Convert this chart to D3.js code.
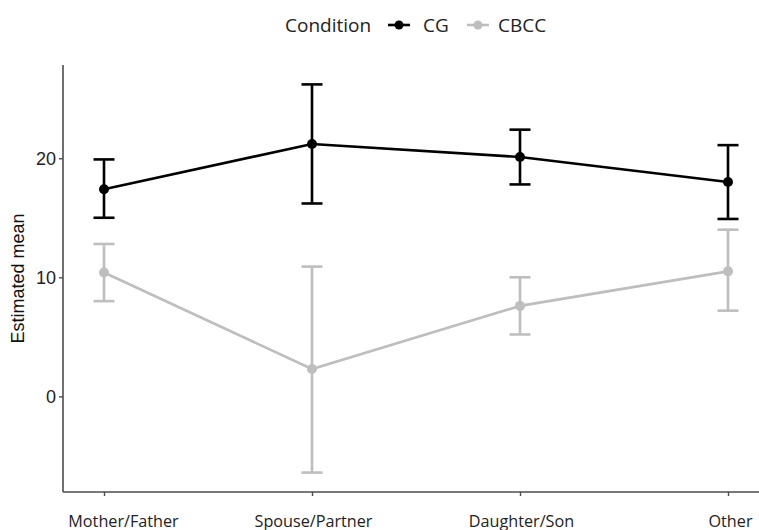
<!DOCTYPE html>
<html><head><meta charset="utf-8">
<script src="https://cdn.jsdelivr.net/npm/d3@7"></script>
<style>body{margin:0;background:#fff;} svg{display:block;}</style>
</head><body>
<svg id="c" width="759" height="530"></svg>
<script>
const categories = ["Mother/Father", "Spouse/Partner", "Daughter/Son", "Other"];
const seriesNames = ["CG", "CBCC"];
const cgMean  = [17.4, 21.2, 20.1, 18.0];
const cgLower = [15.0, 16.2, 17.8, 14.9];
const cgUpper = [19.9, 26.2, 22.4, 21.1];
const cbccMean  = [10.4, 2.3, 7.6, 10.5];
const cbccLower = [8.0, -6.4, 5.2, 7.2];
const cbccUpper = [12.8, 10.9, 10.0, 14.0];
const yTicks = [0, 10, 20];
const colors = ["#000000", "#bebebe"];

const series = [
  {name: seriesNames[0], color: colors[0], mean: cgMean, lo: cgLower, hi: cgUpper},
  {name: seriesNames[1], color: colors[1], mean: cbccMean, lo: cbccLower, hi: cbccUpper}
];

const svg = d3.select("#c");
const mLeft = 63, mTop = 65, mBottom = 492;
const step = 208;
const x = d3.scalePoint().domain(categories).range([104, 104 + 3 * step]);
const all = cgLower.concat(cgUpper, cbccLower, cbccUpper);
const lo = d3.min(all), hi = d3.max(all), pad = (hi - lo) * 0.05;
const y = d3.scaleLinear().domain([lo - pad, hi + pad]).range([mBottom, mTop]);

// axes
const axisColor = "#4d4d4d";
svg.append("line").attr("x1", mLeft).attr("x2", mLeft).attr("y1", mTop).attr("y2", mBottom)
  .attr("stroke", axisColor).attr("stroke-width", 1.6);
svg.append("line").attr("x1", mLeft).attr("x2", 780).attr("y1", mBottom).attr("y2", mBottom)
  .attr("stroke", axisColor).attr("stroke-width", 1.6);

const yAxis = svg.append("g").attr("transform", `translate(${mLeft},0)`)
  .call(d3.axisLeft(y).tickValues(yTicks).tickSize(4).tickPadding(3));
yAxis.select(".domain").remove();
yAxis.selectAll("line").attr("stroke", axisColor).attr("stroke-width", 1.4);
yAxis.selectAll("text").attr("fill", "#222").attr("font-family", "Liberation Sans, Arial, sans-serif")
  .attr("font-size", 18);

const xAxis = svg.append("g").attr("transform", `translate(0,${mBottom})`)
  .call(d3.axisBottom(x).tickSize(4).tickPadding(19));
xAxis.select(".domain").remove();
xAxis.selectAll("line").attr("stroke", axisColor).attr("stroke-width", 1.4);
xAxis.selectAll("text").attr("fill", "#222").attr("font-family", "Open Sans, sans-serif")
  .attr("font-size", 16.2)
  .attr("dx", (d, i) => i === 0 ? 19 : (i === 3 ? 2 : 1));

svg.append("text").attr("transform", `translate(24,${(mTop + mBottom) / 2}) rotate(-90)`)
  .attr("text-anchor", "middle").attr("font-family", "Liberation Sans, Arial, sans-serif")
  .attr("font-size", 18).attr("fill", "#111").text("Estimated mean");

// series (grey drawn first)
const line = d3.line().x((d, i) => x(categories[i])).y(d => y(d));
[series[1], series[0]].forEach(s => {
  const g = svg.append("g");
  g.append("path").datum(s.mean).attr("d", line).attr("fill", "none")
    .attr("stroke", s.color).attr("stroke-width", 2.6);
  categories.forEach((c, i) => {
    const cx = x(c);
    g.append("line").attr("x1", cx).attr("x2", cx).attr("y1", y(s.lo[i])).attr("y2", y(s.hi[i]))
      .attr("stroke", s.color).attr("stroke-width", 2.6);
    [s.lo[i], s.hi[i]].forEach(v => {
      g.append("line").attr("x1", cx - 10.5).attr("x2", cx + 10.5).attr("y1", y(v)).attr("y2", y(v))
        .attr("stroke", s.color).attr("stroke-width", 2.6);
    });
    g.append("circle").attr("cx", cx).attr("cy", y(s.mean[i])).attr("r", 5).attr("fill", s.color);
  });
});

// legend
const lg = svg.append("g").attr("font-family", "Open Sans, sans-serif").attr("font-size", 19).attr("fill", "#222");
lg.append("text").attr("x", 285).attr("y", 32).text("Condition");
const keys = [{x1: 388, tx: 423}, {x1: 467, tx: 498}];
series.forEach((s, i) => {
  const k = keys[i];
  lg.append("line").attr("x1", k.x1).attr("x2", k.x1 + 22).attr("y1", 25).attr("y2", 25)
    .attr("stroke", s.color).attr("stroke-width", 2.6);
  lg.append("circle").attr("cx", k.x1 + 11).attr("cy", 25).attr("r", 4.5).attr("fill", s.color);
  lg.append("text").attr("x", k.tx).attr("y", 32).text(s.name);
});
</script>
</body></html>
